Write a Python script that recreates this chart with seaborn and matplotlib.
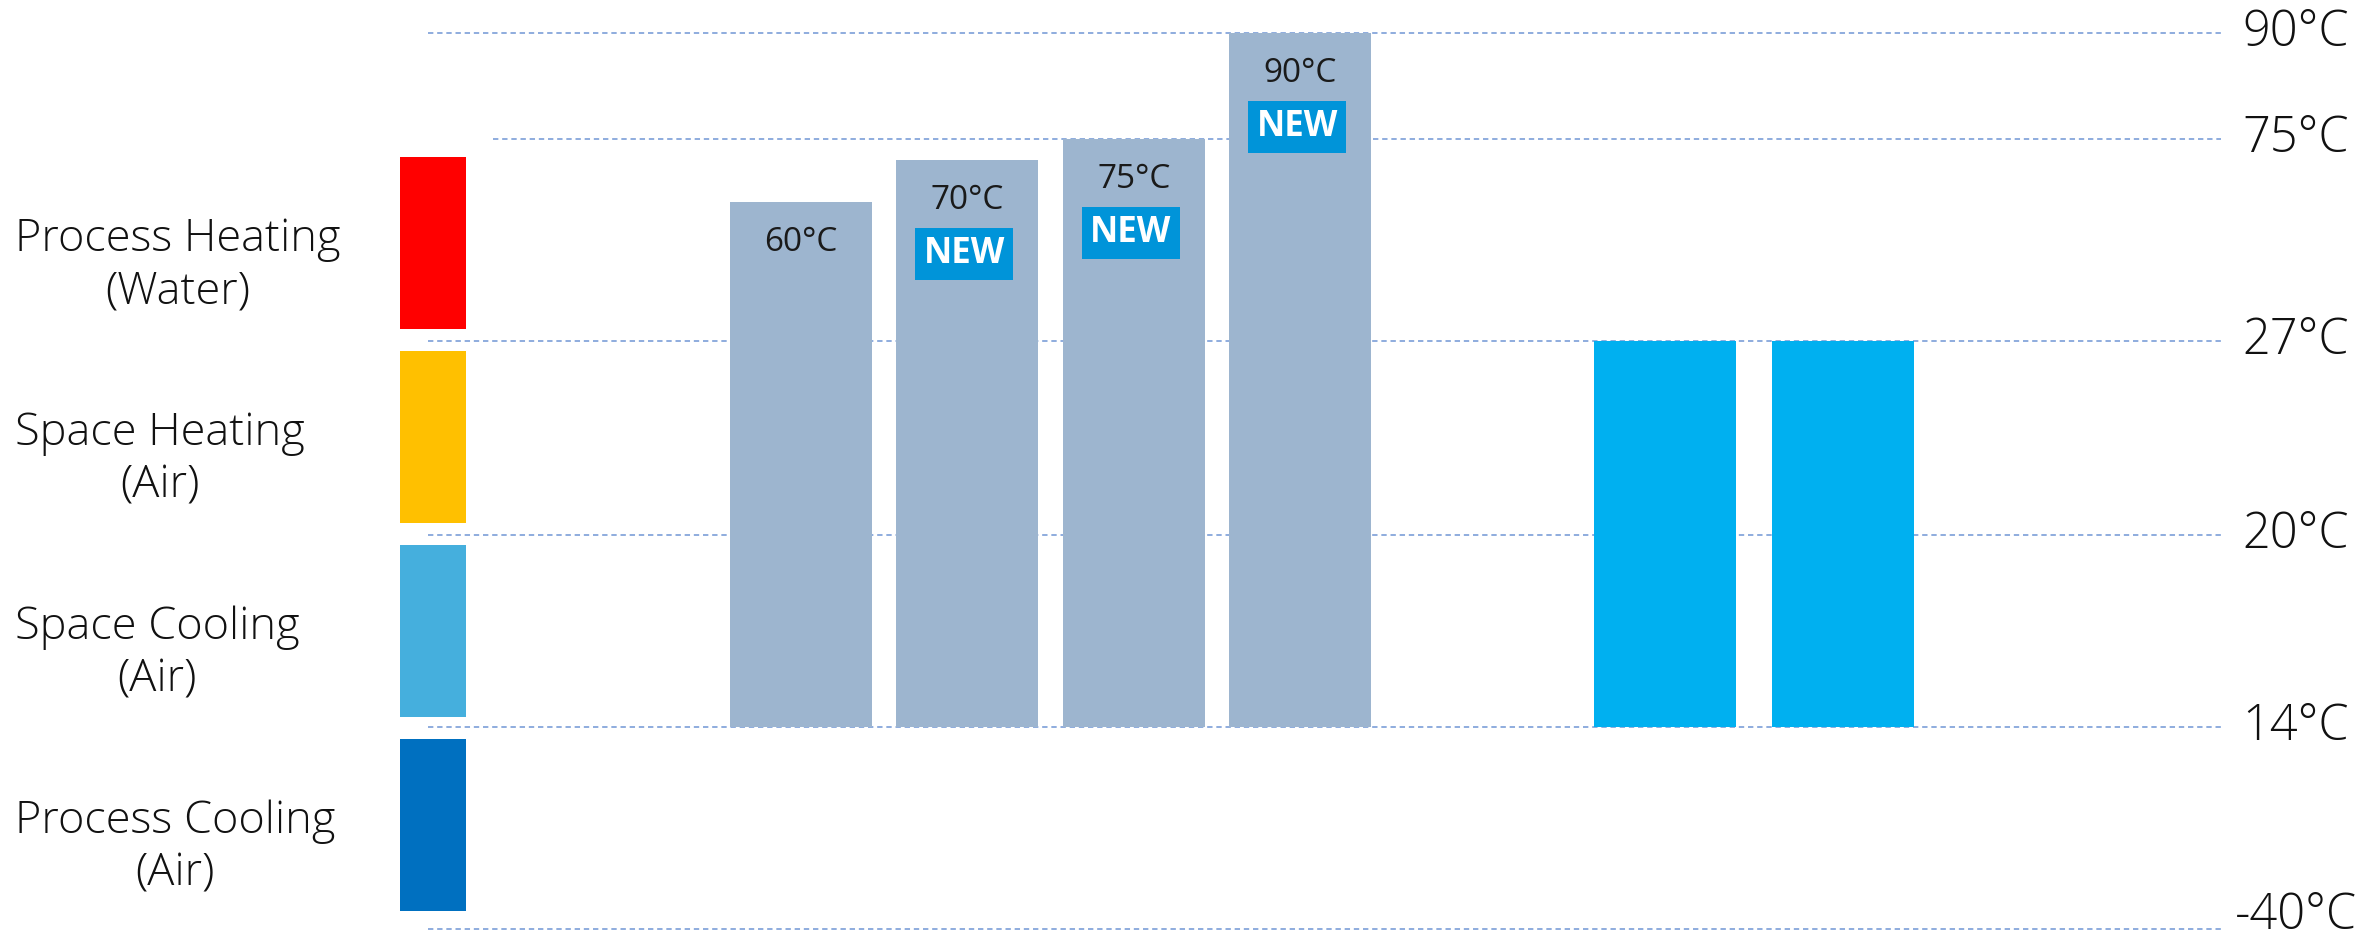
import numpy as np
import pandas as pd
import matplotlib
matplotlib.use("Agg")
import matplotlib.pyplot as plt
import matplotlib.transforms as mtransforms
import seaborn as sns

# ---------------- data ----------------
temp_levels = [-40, 14, 20, 27, 75, 90]
temp_labels = ["-40°C", "14°C", "20°C", "27°C", "75°C", "90°C"]

heat_labels = ["60°C", "70°C", "75°C", "90°C"]
heat_tops = [60, 70, 75, 90]
heat_new = [False, True, True, True]
cool_names = ["cool A", "cool B"]
cool_tops = [27, 27]
bar_base = 14

use_categories = ["Process Heating\n(Water)", "Space Heating\n(Air)",
                  "Space Cooling\n(Air)", "Process Cooling\n(Air)"]
use_colors = ["#FF0000", "#FFC000", "#45AFDD", "#0070C0"]

# ---------------- style ----------------
sns.set_style("white")
plt.rcParams["font.family"] = ["Open Sans", "DejaVu Sans"]
plt.rcParams["text.color"] = "#111111"
plt.rcParams["ytick.color"] = "#111111"

W, H = 2356, 942
fig = plt.figure(figsize=(W / 100, H / 100), dpi=100)

# non-uniform temperature scale (position of each reference level)
level_pos = np.array([13, 215, 407, 601, 803, 909], float)
level_t = np.array(temp_levels, float)


def _pw(x, xs, ys):
    x = np.asarray(x, float)
    y = np.interp(x, xs, ys)
    lo_s = (ys[1] - ys[0]) / (xs[1] - xs[0])
    hi_s = (ys[-1] - ys[-2]) / (xs[-1] - xs[-2])
    y = np.where(x < xs[0], ys[0] + (x - xs[0]) * lo_s, y)
    y = np.where(x > xs[-1], ys[-1] + (x - xs[-1]) * hi_s, y)
    return y


def fwd(t):
    return _pw(t, level_t, level_pos)


def inv(p):
    return _pw(p, level_pos, level_t)


def temp_scale(a):
    a.set_yscale("function", functions=(fwd, inv))
    a.set_ylim(float(inv(0)), float(inv(H)))


# ---------------- background axes: reference lines + right labels ----------------
left_px, right_px = 428, 2221
ax = fig.add_axes([left_px / W, 0, (right_px - left_px) / W, 1])
ax.set_facecolor("none")
temp_scale(ax)
ax.set_xlim(0, 1)
for t in temp_levels:
    xmin = 0.036 if t == 75 else 0.0
    ax.axhline(t, xmin=xmin, xmax=1, color="#7096D4", lw=1.1,
               ls=(0, (3.5, 2.5)), zorder=0)
ax.yaxis.tick_right()
ax.set_yticks(temp_levels)
ax.set_yticklabels(temp_labels)
ax.tick_params(axis="y", length=0, pad=54, labelsize=35, labelcolor="#111111")
for lab in ax.get_yticklabels():
    lab.set_ha("center")
    lab.set_va("center")
    lab.set_fontweight("light")
    if lab.get_text().startswith("-"):
        lab.set_transform(lab.get_transform() +
                          mtransforms.ScaledTranslation(0, 13 / 100, fig.dpi_scale_trans))
ax.set_xticks([])
for s in ax.spines.values():
    s.set_visible(False)


def bar_axes(x0, x1):
    a = fig.add_axes([x0 / W, 0, (x1 - x0) / W, 1])
    a.set_facecolor("none")
    return a


# ---------------- heating bars ----------------
axh = bar_axes(701, 1400)
dfh = pd.DataFrame({"cat": heat_labels,
                    "height": [t - bar_base for t in heat_tops]})
sns.barplot(data=dfh, x="cat", y="height", order=heat_labels, color="#9DB5CF",
            saturation=1, width=0.854, bottom=bar_base, errorbar=None,
            linewidth=0, zorder=2, ax=axh)
temp_scale(axh)
axh.set_xlim(-0.6, len(heat_labels) - 0.4)
axh.axis("off")

for k, (lab, top, new) in enumerate(zip(heat_labels, heat_tops, heat_new)):
    axh.annotate(lab, xy=(k, top), xytext=(0, -40), textcoords="offset pixels",
                 ha="center", va="center", fontsize=24, color="#1a1a1a", zorder=5)
    if new:
        axh.annotate("NEW", xy=(k, top), xytext=(-3, -94), textcoords="offset pixels",
                     ha="center", va="center", fontsize=25, fontweight="bold",
                     color="white", zorder=6,
                     bbox=dict(boxstyle="square,pad=0.24", fc="#0094D9", ec="none"))

# ---------------- cooling bars ----------------
axc = bar_axes(1558, 1950)
dfc = pd.DataFrame({"cat": cool_names,
                    "height": [t - bar_base for t in cool_tops]})
sns.barplot(data=dfc, x="cat", y="height", order=cool_names, color="#00B0F0",
            saturation=1, width=0.798, bottom=bar_base, errorbar=None,
            linewidth=0, zorder=2, ax=axc)
temp_scale(axc)
axc.set_xlim(-0.6, len(cool_names) - 0.4)
axc.axis("off")

# ---------------- left category column ----------------
axl = fig.add_axes([400 / W, 0, 66 / W, 1])
axl.set_facecolor("none")
sns.barplot(x=[1] * len(use_categories), y=use_categories, hue=use_categories,
            palette=use_colors, saturation=1, orient="h", width=0.887,
            legend=False, linewidth=0, ax=axl)
axl.set_xlim(0, 1)
axl.set_ylim((H - 243) / 194, -243 / 194)
axl.axis("off")

tr = mtransforms.blended_transform_factory(fig.transFigure, axl.transData)
for i, name in enumerate(use_categories):
    axl.text(15 / W, i + 0.12, name, transform=tr, ha="left", va="center",
             multialignment="center", fontsize=32.5, fontweight="light",
             color="#111111", linespacing=1.25)

fig.savefig("out.png", dpi=100)
